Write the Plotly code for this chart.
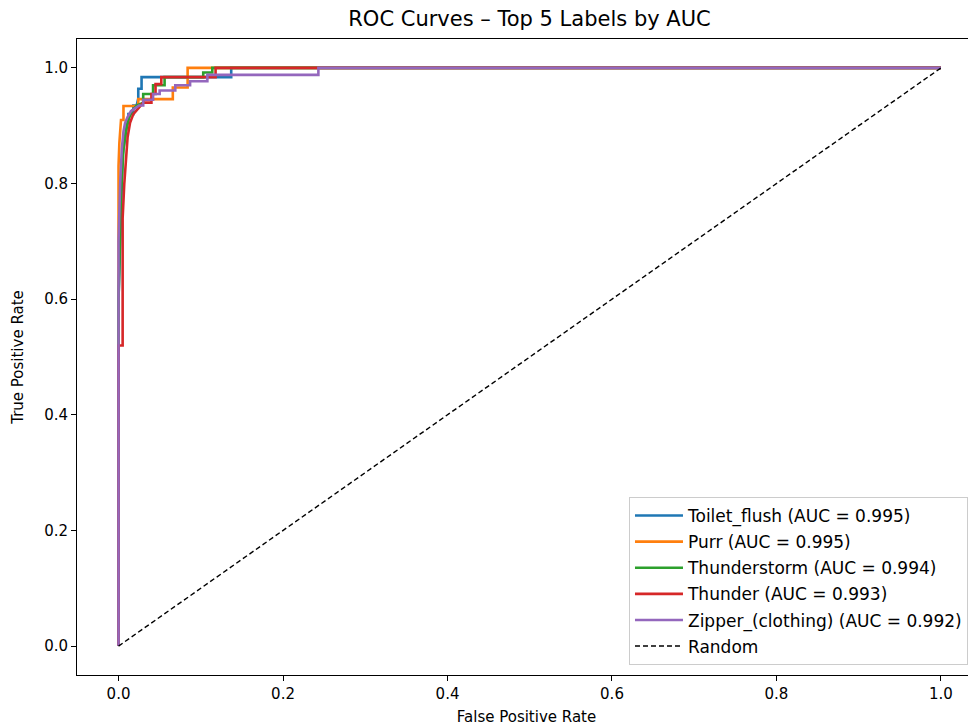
import plotly.graph_objects as go

labels = ["Toilet_flush", "Purr", "Thunderstorm", "Thunder", "Zipper_(clothing)"]
aucs = [0.995, 0.995, 0.994, 0.993, 0.992]
colors = ["#1f77b4", "#ff7f0e", "#2ca02c", "#d62728", "#9467bd"]

toilet_fpr = [0, 0, 0.003, 0.005, 0.008, 0.010, 0.012, 0.012, 0.014, 0.018, 0.018, 0.022, 0.024, 0.024, 0.028, 0.028, 0.137, 0.137, 1.0]
toilet_tpr = [0, 0.60, 0.75, 0.85, 0.88, 0.90, 0.91, 0.92, 0.92, 0.92, 0.935, 0.935, 0.947, 0.964, 0.964, 0.984, 0.984, 1.0, 1.0]

purr_fpr = [0, 0, 0.001, 0.003, 0.003, 0.006, 0.006, 0.024, 0.024, 0.066, 0.066, 0.084, 0.084, 1.0]
purr_tpr = [0, 0.83, 0.87, 0.90, 0.91, 0.91, 0.934, 0.934, 0.946, 0.946, 0.966, 0.966, 1.0, 1.0]

storm_fpr = [0, 0, 0.003, 0.006, 0.009, 0.012, 0.016, 0.022, 0.030, 0.030, 0.042, 0.042, 0.056, 0.056, 0.103, 0.103, 0.114, 0.114, 1.0]
storm_tpr = [0, 0.60, 0.78, 0.86, 0.89, 0.91, 0.925, 0.935, 0.94, 0.955, 0.955, 0.97, 0.97, 0.984, 0.984, 0.992, 0.992, 1.0, 1.0]

thunder_fpr = [0, 0, 0.005, 0.005, 0.007, 0.009, 0.011, 0.014, 0.018, 0.024, 0.030, 0.040, 0.040, 0.045, 0.045, 0.052, 0.052, 0.118, 0.118, 1.0]
thunder_tpr = [0, 0.52, 0.52, 0.74, 0.80, 0.85, 0.88, 0.905, 0.92, 0.93, 0.94, 0.94, 0.955, 0.955, 0.972, 0.972, 0.984, 0.984, 1.0, 1.0]

zipper_fpr = [0, 0, 0.002, 0.004, 0.006, 0.008, 0.011, 0.015, 0.020, 0.025, 0.030, 0.030, 0.042, 0.042, 0.050, 0.050, 0.069, 0.069, 0.087, 0.087, 0.108, 0.108, 0.243, 0.243, 1.0]
zipper_tpr = [0, 0.70, 0.80, 0.86, 0.89, 0.905, 0.915, 0.925, 0.93, 0.935, 0.935, 0.945, 0.945, 0.955, 0.955, 0.961, 0.961, 0.970, 0.970, 0.977, 0.977, 0.988, 0.988, 1.0, 1.0]

random_x = [0, 1]
random_y = [0, 1]

tick_vals = [0.0, 0.2, 0.4, 0.6, 0.8, 1.0]

curves = [(toilet_fpr, toilet_tpr), (purr_fpr, purr_tpr), (storm_fpr, storm_tpr),
          (thunder_fpr, thunder_tpr), (zipper_fpr, zipper_tpr)]

fig = go.Figure()
for i, ((fx, ty), lab, auc, col) in enumerate(zip(curves, labels, aucs, colors)):
    fig.add_trace(go.Scatter(x=fx, y=ty, mode="lines", name=f"{lab} (AUC = {auc:.3f})",
                             legendgroup=f"g{i}",
                             line=dict(color=col, width=2.6)))
fig.add_trace(go.Scatter(x=random_x, y=random_y, mode="lines", name="Random",
                         legendgroup="random",
                         line=dict(color="black", width=1.4, dash="5px,3px")))

# page body has an 8px margin: div is placed at (8, 8)
W, H = 968, 719
font = "DejaVu Sans, sans-serif"
fig.update_layout(
    width=W, height=H,
    margin=dict(l=69, r=0, t=31, b=52),
    paper_bgcolor="white", plot_bgcolor="white",
    font=dict(family=font, size=15, color="black"),
    title=dict(text="ROC Curves – Top 5 Labels by AUC", x=(529.5 - 8) / W, xanchor="center",
               y=1 - 11 / H, yanchor="middle", font=dict(size=21, color="black")),
    legend=dict(x=0.614, y=(675 - 497) / 636, xanchor="left", yanchor="top",
                bgcolor="rgba(255,255,255,0.8)", bordercolor="#cccccc", borderwidth=1,
                font=dict(size=17, color="black"), tracegroupgap=1, itemwidth=48,
                traceorder="grouped"),
    showlegend=True,
)
fig.update_xaxes(range=[-0.0505, 1.0426], tickvals=tick_vals, tickformat=".1f",
                 showgrid=False, zeroline=False, showline=True, linecolor="black", linewidth=1,
                 mirror=True, ticks="outside", ticklen=5, tickcolor="black",
                 title=dict(text="False Positive Rate", standoff=9, font=dict(size=15)))
fig.update_yaxes(range=[-0.05, 1.05], tickvals=tick_vals, tickformat=".1f",
                 showgrid=False, zeroline=False, showline=True, linecolor="black", linewidth=1,
                 mirror=False, ticks="outside", ticklen=5, tickcolor="black",
                 title=dict(text="True Positive Rate", standoff=16, font=dict(size=15)))

fig.write_html("out.html")
